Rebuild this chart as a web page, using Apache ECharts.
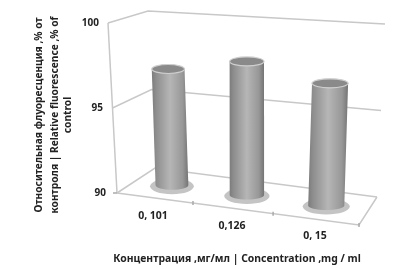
<!DOCTYPE html>
<html><head><meta charset="utf-8">
<style>html,body{margin:0;background:#fff}#c{width:414px;height:269px;filter:blur(0.5px)}</style>
<script src="https://cdn.jsdelivr.net/npm/echarts@6/dist/echarts.min.js"></script>
</head><body><div id="c"></div>
<script>
const categories = ['0, 101', '0,126', '0, 15'];
const values = [97.0, 97.8, 96.9];
const yTicks = [90, 95, 100];
const yTitle = ['Относительная флуоресценция ,% от', 'контроля | Relative fluorescence ,% of', 'control'];
const xTitle = 'Концентрация ,мг/мл | Concentration ,mg / ml';

// Perspective frame of the 3D box (layout only)
const box = {
  fl0:[117,193], fr0:[359,225], bl0:[155,168], br0:[377,197],
  fl1:[108,23],  fr1:[368,38],  bl1:[148,11],  br1:[385,24]
};
const barU = [0.155, 0.478, 0.82];
const tickU = [0.314, 0.645, 1];
const labelPos = [[153,216],[232,226],[315,236]];
const yLabelRight = [106, 103, 99];
const FONT = '"Noto Sans", sans-serif';
const mix = (a,b,t) => [a[0]+(b[0]-a[0])*t, a[1]+(b[1]-a[1])*t];
function project(u,d,f){
  const bottom = mix(mix(box.fl0,box.fr0,u), mix(box.bl0,box.br0,u), d);
  const top = mix(mix(box.fl1,box.fr1,u), mix(box.bl1,box.br1,u), d);
  return mix(bottom,top,f);
}
function frac(api,v){
  const y0 = api.coord([0,90])[1], y1 = api.coord([0,100])[1];
  return (api.coord([0,v])[1]-y0)/(y1-y0);
}
const wall = {stroke:'#c8c8c8', lineWidth:1.5, fill:null};
function line(pts,style){ return {type:'polyline', shape:{points:pts}, style:Object.assign({},wall,style||{})}; }

function renderWall(params,api){
  const v = api.value(1), f = frac(api,v), i = params.dataIndex, ch=[];
  ch.push(line([project(0,0,f),project(0,1,f),project(1,1,f)]));
  ch.push({type:'text', style:{text:String(v), x:yLabelRight[i], y:project(0,0,f)[1], align:'right', verticalAlign:'middle',
    font:'bold 10px '+FONT, fill:'#222'}});
  if(i===0){
    ch.push(line([box.fl0,box.fl1]));
    ch.push(line([box.fl0,box.fr0,box.br0]));
    tickU.forEach(u=>{
      const p = project(u,0,0);
      ch.push(line([[p[0],p[1]-2],[p[0],p[1]+2]],{stroke:'#aaa'}));
    });
    ch.push(line([[box.fl0[0]-4,box.fl0[1]],[box.fl0[0],box.fl0[1]]],{stroke:'#aaa'}));
  }
  return {type:'group',children:ch};
}
function renderBar(params,api){
  const i = params.dataIndex, u = barU[i], f = frac(api,api.value(1));
  const b = project(u,0.5,0), t = project(u,0.5,f);
  const rx = 16+2.5*u, ry = 4.5;
  const g = {type:'linear',x:0,y:0,x2:1,y2:0,colorStops:[
    {offset:0,color:'#7c7c7c'},{offset:0.12,color:'#8e8e8e'},{offset:0.5,color:'#b6b6b6'},
    {offset:0.85,color:'#979797'},{offset:1,color:'#747474'}]};
  const body = [[t[0]-rx,t[1]],[t[0]+rx,t[1]],[b[0]+rx,b[1]]];
  for(let k=1;k<=16;k++){const a=Math.PI*k/16; body.push([b[0]+rx*Math.cos(a),b[1]+ry*Math.sin(a)]);}
  return {type:'group',children:[
    {type:'ellipse',shape:{cx:b[0],cy:b[1]+1,rx:rx+5.5,ry:ry+3.5},style:{fill:'#c4c4c4'}},
    {type:'polygon',shape:{points:body},style:{fill:g}},
    {type:'ellipse',shape:{cx:t[0],cy:t[1],rx:rx,ry:ry},style:{fill:'#8a8a8a',stroke:'#cfcfcf',lineWidth:1.2}},
    {type:'text',style:{text:categories[i],x:labelPos[i][0],y:labelPos[i][1],align:'center',verticalAlign:'middle',
      font:'bold 10.5px '+FONT,fill:'#222'}}
  ]};
}
const chart = echarts.init(document.getElementById('c'),null,{renderer:'canvas'});
chart.setOption({
  animation:false,
  grid:{left:108,right:40,top:23,height:170},
  xAxis:{type:'category',data:categories,show:false},
  yAxis:{type:'value',min:90,max:100,interval:5,show:false},
  graphic:[
    ...yTitle.map((s,i)=>({type:'text',rotation:Math.PI/2,x:[39,55,68][i],y:115,
      style:{text:s,align:'center',verticalAlign:'middle',font:'bold 10.2px '+FONT,fill:'#222'}})),
    {type:'text',x:237,y:259,style:{text:xTitle,align:'center',verticalAlign:'middle',font:'bold 10.4px '+FONT,fill:'#222'}}
  ],
  series:[
    {type:'custom',coordinateSystem:'cartesian2d',clip:false,z:1,renderItem:renderWall,data:yTicks.map(v=>[0,v])},
    {type:'custom',coordinateSystem:'cartesian2d',clip:false,z:2,renderItem:renderBar,data:values.map((v,i)=>[i,v])}
  ]
});
</script></body></html>
